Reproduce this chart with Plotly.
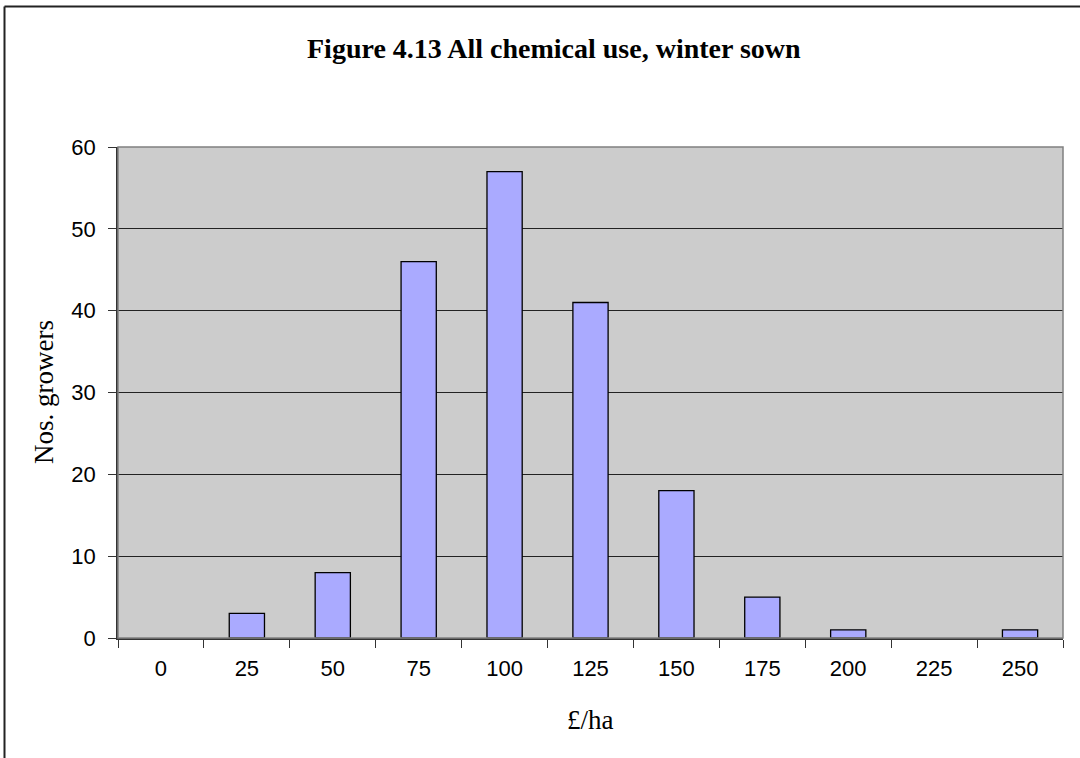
import plotly.graph_objects as go

categories = ["0", "25", "50", "75", "100", "125", "150", "175", "200", "225", "250"]
growers = [0, 3, 8, 46, 57, 41, 18, 5, 1, 0, 1]
y_ticks = [0, 10, 20, 30, 40, 50, 60]

W, H = 1080, 758
L, R, T, B = 118, 17, 147, 120
pw, ph = W - L - R, H - T - B

fig = go.Figure()
fig.add_trace(go.Bar(
    x=categories, y=growers,
    marker=dict(color="#AAAAFF",
                line=dict(color="#000000", width=[1.3 if v > 0 else 0 for v in growers])),
    width=0.41,
))

def px_x(x):
    return (x - L) / pw

def px_y(y):
    return 1 - (y - T) / ph

serif = "Liberation Serif, Times New Roman"
sans = "Liberation Sans, Arial"

fig.update_layout(
    width=W, height=H,
    margin=dict(l=L, r=R, t=T, b=B),
    paper_bgcolor="white",
    plot_bgcolor="#CCCCCC",
    showlegend=False,
    font=dict(family=sans, color="black", size=22),
    shapes=[
        dict(type="line", xref="paper", yref="paper",
             x0=px_x(4.5), x1=px_x(1080), y0=px_y(6.5), y1=px_y(6.5),
             line=dict(color="#222222", width=2)),
        dict(type="line", xref="paper", yref="paper",
             x0=px_x(4.5), x1=px_x(4.5), y0=px_y(6.5), y1=px_y(758),
             line=dict(color="#222222", width=2)),
        dict(type="rect", xref="paper", yref="paper",
             x0=0, x1=1, y0=0, y1=1,
             line=dict(color="#808080", width=1.5), layer="above"),
    ],
    annotations=[
        dict(text="<b>Figure 4.13 All chemical use, winter sown</b>",
             xref="paper", yref="paper", x=px_x(554), y=px_y(48),
             xanchor="center", yanchor="middle", showarrow=False,
             font=dict(family=serif, size=28, color="black")),
        dict(text="£/ha",
             xref="paper", yref="paper", x=px_x(590), y=px_y(720),
             xanchor="center", yanchor="middle", showarrow=False,
             font=dict(family=serif, size=27, color="black")),
        dict(text="Nos. growers", textangle=-90,
             xref="paper", yref="paper", x=px_x(44), y=px_y(392),
             xanchor="center", yanchor="middle", showarrow=False,
             font=dict(family=serif, size=27, color="black")),
    ],
)

fig.update_xaxes(
    type="category",
    tickson="boundaries",
    ticks="outside", ticklen=8, tickcolor="#333333", tickwidth=1,
    showline=True, linecolor="#333333", linewidth=1.5,
    showgrid=False,
    ticklabelstandoff=10,
    tickfont=dict(family=sans, size=22, color="black"),
)
fig.update_yaxes(
    range=[0, 60], tickvals=y_ticks,
    ticks="outside", ticklen=8, tickcolor="#333333", tickwidth=1,
    showline=True, linecolor="#333333", linewidth=1.5,
    showgrid=True, gridcolor="#222222", gridwidth=1,
    zeroline=False,
    ticklabelstandoff=8,
    tickfont=dict(family=sans, size=22, color="black"),
)

fig.write_html("out.html")
